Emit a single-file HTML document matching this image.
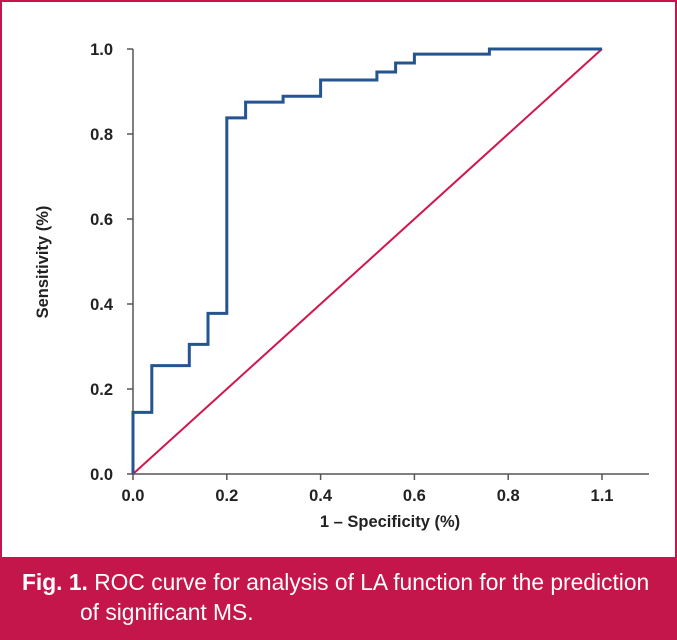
<!DOCTYPE html>
<html><head><meta charset="utf-8"><style>
body{margin:0;background:#fff;}
#wrap{position:relative;width:677px;height:640px;overflow:hidden;font-family:"Liberation Sans",Arial,sans-serif;}
#frame{position:absolute;left:0;top:0;width:673px;height:636px;border:2px solid #c4164a;}
#cap{position:absolute;left:2px;top:557px;width:673px;height:81px;background:#c4164a;color:#fff;font-size:22.8px;line-height:30px;}
#cap .l1{position:absolute;left:20px;top:10px;white-space:nowrap;}
#cap .l2{position:absolute;left:78px;top:40px;white-space:nowrap;}
</style></head><body>
<div id="wrap">
<div id="frame"></div>
<svg id="chart" width="677" height="557" style="position:absolute;left:0;top:0"></svg>
<div id="cap">
<span class="l1"><b>Fig. 1.</b> ROC curve for analysis of LA function for the prediction</span>
<span class="l2">of significant MS.</span>
</div>
</div>
<script>
const fpr=[0,0,0.04,0.04,0.12,0.12,0.16,0.16,0.2,0.2,0.24,0.24,0.32,0.32,0.4,0.4,0.52,0.52,0.56,0.56,0.6,0.6,0.76,0.76,1.0];
const tpr=[0,0.145,0.145,0.255,0.255,0.305,0.305,0.378,0.378,0.838,0.838,0.875,0.875,0.889,0.889,0.927,0.927,0.946,0.946,0.967,0.967,0.988,0.988,1.0,1.0];
const refX=[0,1];
const refY=[0,1];
const xTicks=[0,0.2,0.4,0.6,0.8,1.0];
const xTickLabels=["0.0","0.2","0.4","0.6","0.8","1.1"];
const yTicks=[0,0.2,0.4,0.6,0.8,1.0];
const yTickLabels=["0.0","0.2","0.4","0.6","0.8","1.0"];

const NS="http://www.w3.org/2000/svg";
const svg=document.getElementById('chart');
const X0=133,X1=602,Y0=474,Y1=49;
const sx=v=>X0+(X1-X0)*v;
const sy=v=>Y0-(Y0-Y1)*v;
function mk(tag,attrs){const e=document.createElementNS(NS,tag);for(const k in attrs)e.setAttribute(k,attrs[k]);svg.appendChild(e);return e;}

let e=mk('line',{x1:X0,y1:Y0,x2:649,y2:Y0,stroke:'#555','stroke-width':1.5});


e=mk('line',{x1:X0,y1:Y0,x2:X0,y2:Y1,stroke:'#555','stroke-width':1.5});



xTicks.forEach((v,i)=>{
  let t=mk('line',{x1:sx(v),y1:Y0,x2:sx(v),y2:Y0+6,stroke:'#555','stroke-width':1.5});
  
  
  let l=mk('text',{x:sx(v),y:Y0+27,'text-anchor':'middle','font-size':16.5,'font-weight':'bold',fill:'#222'});
  l.textContent=xTickLabels[i];
  
  
});
yTicks.forEach((v,i)=>{
  let t=mk('line',{x1:X0-6,y1:sy(v),x2:X0,y2:sy(v),stroke:'#555','stroke-width':1.5});
  
  
  let l=mk('text',{x:X0-20,y:sy(v)+6,'text-anchor':'end','font-size':16.5,'font-weight':'bold',fill:'#222'});
  l.textContent=yTickLabels[i];
  
  
});

let xt=mk('text',{x:390,y:527,'text-anchor':'middle','font-size':16.5,'font-weight':'bold',fill:'#222'});
xt.textContent='1 \u2013 Specificity (%)';


let yt=mk('text',{x:0,y:0,'text-anchor':'middle','font-size':16.5,'font-weight':'bold',fill:'#222',transform:'translate(48,262) rotate(-90)'});
yt.textContent='Sensitivity (%)';



let ref=mk('line',{x1:sx(refX[0]),y1:sy(refY[0]),x2:sx(refX[1]),y2:sy(refY[1]),stroke:'#d0174e','stroke-width':2});



let d=fpr.map((v,i)=>(i?'L':'M')+sx(v).toFixed(1)+','+sy(tpr[i]).toFixed(1)).join(' ');
let roc=mk('path',{d:d,fill:'none',stroke:'#255591','stroke-width':3,'stroke-linejoin':'miter'});


</script>
</body></html>
